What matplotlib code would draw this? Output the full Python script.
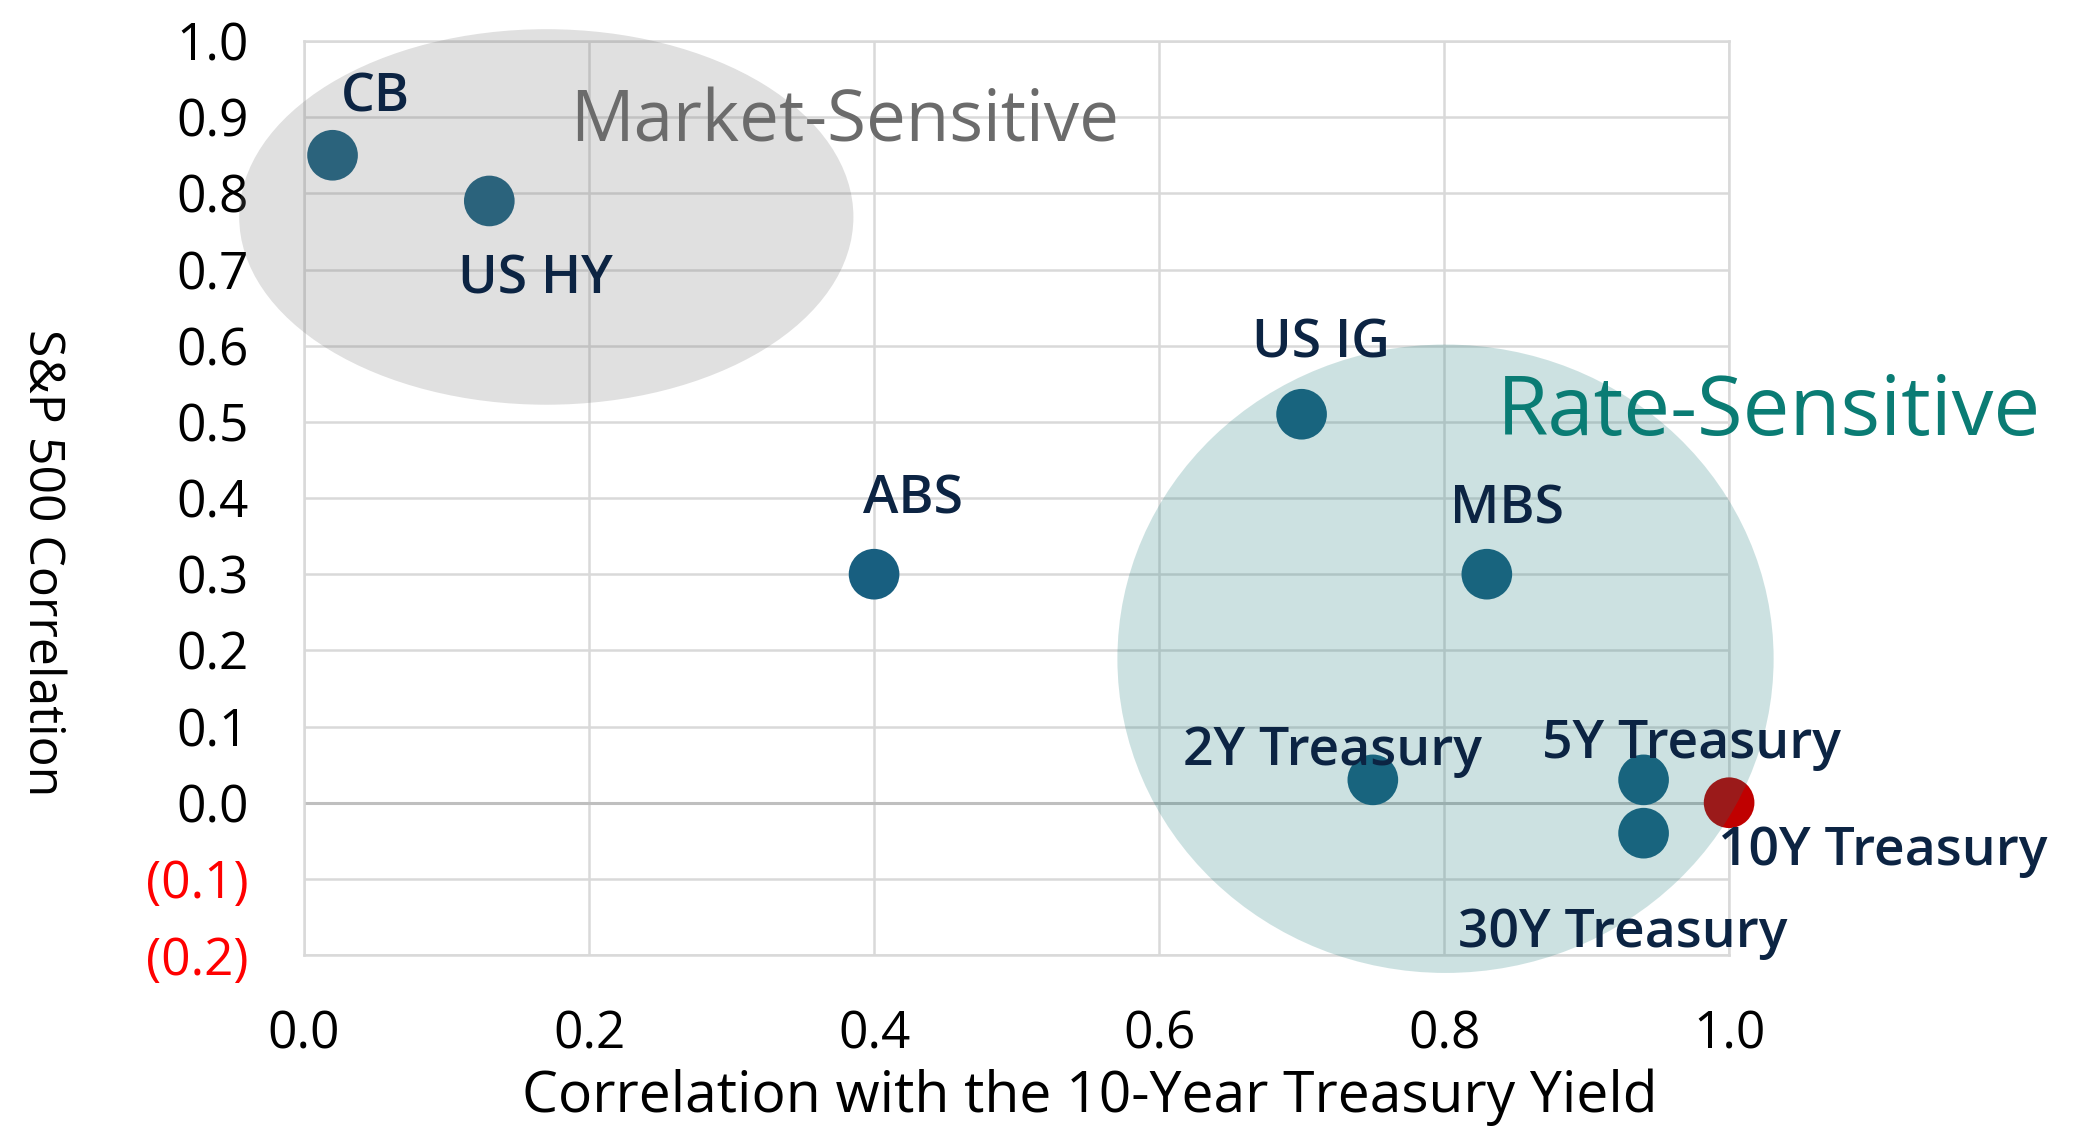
import matplotlib
matplotlib.use("Agg")
import matplotlib.pyplot as plt
from matplotlib.patches import Ellipse

# ---- data ----
names = ["CB", "US HY", "ABS", "US IG", "MBS", "2Y Treasury", "5Y Treasury", "30Y Treasury", "10Y Treasury"]
x_corr_10y = [0.02, 0.13, 0.40, 0.70, 0.83, 0.75, 0.94, 0.94, 1.00]
y_corr_spx = [0.85, 0.79, 0.30, 0.51, 0.30, 0.03, 0.03, -0.04, 0.00]
x_ticks = [0.0, 0.2, 0.4, 0.6, 0.8, 1.0]
x_ticklabels = ["0.0", "0.2", "0.4", "0.6", "0.8", "1.0"]
y_ticks = [1.0, 0.9, 0.8, 0.7, 0.6, 0.5, 0.4, 0.3, 0.2, 0.1, 0.0, -0.1, -0.2]
y_ticklabels = ["1.0", "0.9", "0.8", "0.7", "0.6", "0.5", "0.4", "0.3", "0.2", "0.1", "0.0", "(0.1)", "(0.2)"]
# label anchor positions (data coords, centre / baseline)
label_pos = {
    "CB": (0.050, 0.908),
    "US HY": (0.1625, 0.668),
    "ABS": (0.427, 0.380),
    "US IG": (0.7135, 0.585),
    "MBS": (0.844, 0.366),
    "2Y Treasury": (0.722, 0.050),
    "5Y Treasury": (0.9735, 0.059),
    "30Y Treasury": (0.925, -0.189),
    "10Y Treasury": (1.108, -0.082),
}
# group ellipses: centre x, centre y, width, height
market_ellipse = (0.170, 0.769, 0.431, 0.493)
rate_ellipse = (0.801, 0.189, 0.4605, 0.825)

plt.rcParams['font.family'] = ['Open Sans', 'DejaVu Sans']

fig = plt.figure(figsize=(20.74, 11.39), dpi=100)
ax = fig.add_axes([0.1466, 0.1615, 0.6871, 0.8025])
ax.set_xlim(0, 1.0)
ax.set_ylim(-0.2, 1.0)

grid_c = "#d9d9d9"
ax.set_xticks(x_ticks)
ax.set_xticklabels(x_ticklabels)
ax.set_yticks(y_ticks)
ax.set_yticklabels(y_ticklabels)
ax.grid(True, color=grid_c, linewidth=1.8, zorder=0)
ax.set_axisbelow(True)
for s in ax.spines.values():
    s.set_color(grid_c)
    s.set_linewidth(1.8)
ax.axhline(0, color="#bfbfbf", linewidth=2.2, zorder=1)
ax.tick_params(axis='both', length=0, labelsize=37, colors='black')
ax.tick_params(axis='y', pad=40)
ax.tick_params(axis='x', pad=39)
for lab, v in zip(ax.get_yticklabels(), y_ticks):
    if v < 0:
        lab.set_color("#ff0000")

colors = ["#185f80" if n != "10Y Treasury" else "#c00000" for n in names]
ax.scatter(x_corr_10y, y_corr_spx, s=1330, c=colors, zorder=3, clip_on=False, linewidths=0)

e1 = Ellipse((market_ellipse[0], market_ellipse[1]), market_ellipse[2], market_ellipse[3],
             facecolor="#727272", alpha=0.22, edgecolor='none', zorder=4, clip_on=False)
e2 = Ellipse((rate_ellipse[0], rate_ellipse[1]), rate_ellipse[2], rate_ellipse[3],
             facecolor="#1a7a7a", alpha=0.22, edgecolor='none', zorder=4, clip_on=False)
ax.add_patch(e1)
ax.add_patch(e2)

for n in names:
    px, py = label_pos[n]
    ax.text(px, py, n, ha='center', va='baseline', fontsize=38.5, fontweight='semibold',
            color="#0c2443", zorder=5, clip_on=False)

ax.text(0.379, 0.868, "Market-Sensitive", ha='center', va='baseline', fontsize=51,
        color="#6b6b6b", zorder=5, clip_on=False)
ax.text(1.028, 0.483, "Rate-Sensitive", ha='center', va='baseline', fontsize=60,
        color="#0a7c74", zorder=5, clip_on=False)

fig.text(0.5255, 0.037, "Correlation with the 10-Year Treasury Yield", ha='center', va='center',
         fontsize=41, color='black')
fig.text(0.020, 0.5057, "S&P 500 Correlation", ha='center', va='center', rotation=270,
         fontsize=36, color='black')

fig.savefig("out.png", dpi=100)
